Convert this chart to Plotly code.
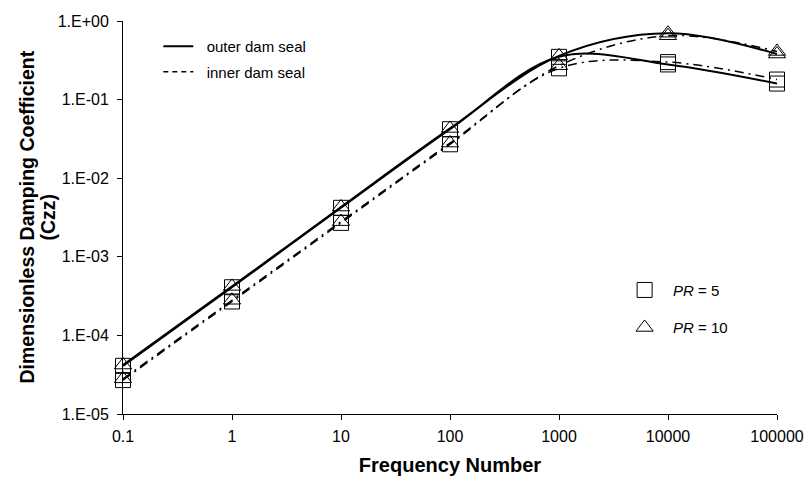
import plotly.graph_objects as go

freq = [0.1, 1, 10, 100, 1000, 10000, 100000]
outer_pr5 = [4.1e-5, 4.1e-4, 4.2e-3, 4.2e-2, 0.35, 0.28, 0.16]
outer_pr10 = [4.2e-5, 4.2e-4, 4.3e-3, 4.3e-2, 0.36, 0.70, 0.38]
inner_pr5 = [2.7e-5, 2.7e-4, 2.7e-3, 2.7e-2, 0.25, 0.30, 0.18]
inner_pr10 = [2.8e-5, 2.8e-4, 2.8e-3, 2.8e-2, 0.27, 0.65, 0.41]

y_tickvals = [1e-5, 1e-4, 1e-3, 1e-2, 1e-1, 1]
y_ticktext = ["1.E-05", "1.E-04", "1.E-03", "1.E-02", "1.E-01", "1.E+00"]
x_tickvals = [0.1, 1, 10, 100, 1000, 10000, 100000]
x_ticktext = ["0.1", "1", "10", "100", "1000", "10000", "100000"]
y_title_lines = ["Dimensionless Damping Coefficient", "(Czz)"]

FONT = "Liberation Sans, Arial, sans-serif"
dashpat = "9px,5px,2px,5px"

fig = go.Figure()

# lines
fig.add_trace(go.Scatter(x=freq, y=outer_pr5, mode="lines", line=dict(color="black", width=2, shape="spline"),
                         name="  outer dam seal", legend="legend", legendgroup="a", cliponaxis=False))
fig.add_trace(go.Scatter(x=freq, y=outer_pr10, mode="lines", line=dict(color="black", width=2, shape="spline"),
                         showlegend=False, cliponaxis=False))
fig.add_trace(go.Scatter(x=freq, y=inner_pr5, mode="lines", line=dict(color="black", width=1.5, shape="spline", dash=dashpat),
                         showlegend=False, cliponaxis=False))
fig.add_trace(go.Scatter(x=freq, y=inner_pr10, mode="lines", line=dict(color="black", width=1.5, shape="spline", dash=dashpat),
                         showlegend=False, cliponaxis=False))
fig.add_trace(go.Scatter(x=[None], y=[None], mode="lines", line=dict(color="black", width=1.5, dash="5px,4px"),
                         name="  inner dam seal", legend="legend", legendgroup="b"))

# markers
sq = dict(symbol="square-open", size=15, color="black", line=dict(width=1, color="black"))
tr = dict(symbol="triangle-up-open", size=15, color="black", line=dict(width=1, color="black"))
fig.add_trace(go.Scatter(x=freq, y=outer_pr5, mode="markers", marker=sq, name="  <i>PR</i> = 5",
                         legend="legend2", legendgroup="c", cliponaxis=False))
fig.add_trace(go.Scatter(x=freq, y=inner_pr5, mode="markers", marker=sq, showlegend=False, cliponaxis=False))
fig.add_trace(go.Scatter(x=freq, y=outer_pr10, mode="markers", marker=tr, name="  <i>PR</i> = 10",
                         legend="legend2", legendgroup="d", cliponaxis=False))
fig.add_trace(go.Scatter(x=freq, y=inner_pr10, mode="markers", marker=tr, showlegend=False, cliponaxis=False))

fig.update_layout(
    width=806, height=484,
    margin=dict(l=123, r=29, t=21, b=70, autoexpand=False),
    paper_bgcolor="white", plot_bgcolor="white",
    font=dict(family=FONT, size=15, color="black"),
    showlegend=True,
    legend=dict(x=0.054, y=0.977, xanchor="left", yanchor="top", bgcolor="rgba(0,0,0,0)",
                font=dict(size=15), traceorder="grouped", tracegroupgap=3),
    legend2=dict(x=0.767, y=0.357, xanchor="left", yanchor="top", bgcolor="rgba(0,0,0,0)",
                 font=dict(size=15), traceorder="grouped", tracegroupgap=15),
)
# y-axis title as two rotated lines
for txt, px in zip(y_title_lines, [26, 47]):
    fig.add_annotation(text="<b>%s</b>" % txt, xref="paper", yref="paper",
                       x=(px - 123) / 654, y=0.5, xanchor="center", yanchor="middle",
                       textangle=-90, showarrow=False, font=dict(size=19.5, family=FONT, color="black"))

fig.update_xaxes(type="log", range=[-1, 5], tickvals=x_tickvals, ticktext=x_ticktext, automargin=False,
                 showgrid=False, zeroline=False, showline=True, linecolor="black", linewidth=1,
                 ticks="outside", ticklen=5, tickcolor="black", tickfont=dict(size=16), ticklabelstandoff=3,
                 title=dict(text="<b>Frequency Number</b>", font=dict(size=20), standoff=13))
fig.update_yaxes(type="log", range=[-5, 0], tickvals=y_tickvals, ticktext=y_ticktext, automargin=False,
                 showgrid=False, zeroline=False, showline=True, linecolor="black", linewidth=1,
                 ticks="outside", ticklen=5, tickcolor="black", tickfont=dict(size=16), ticklabelstandoff=5)

fig.write_html("out.html")
